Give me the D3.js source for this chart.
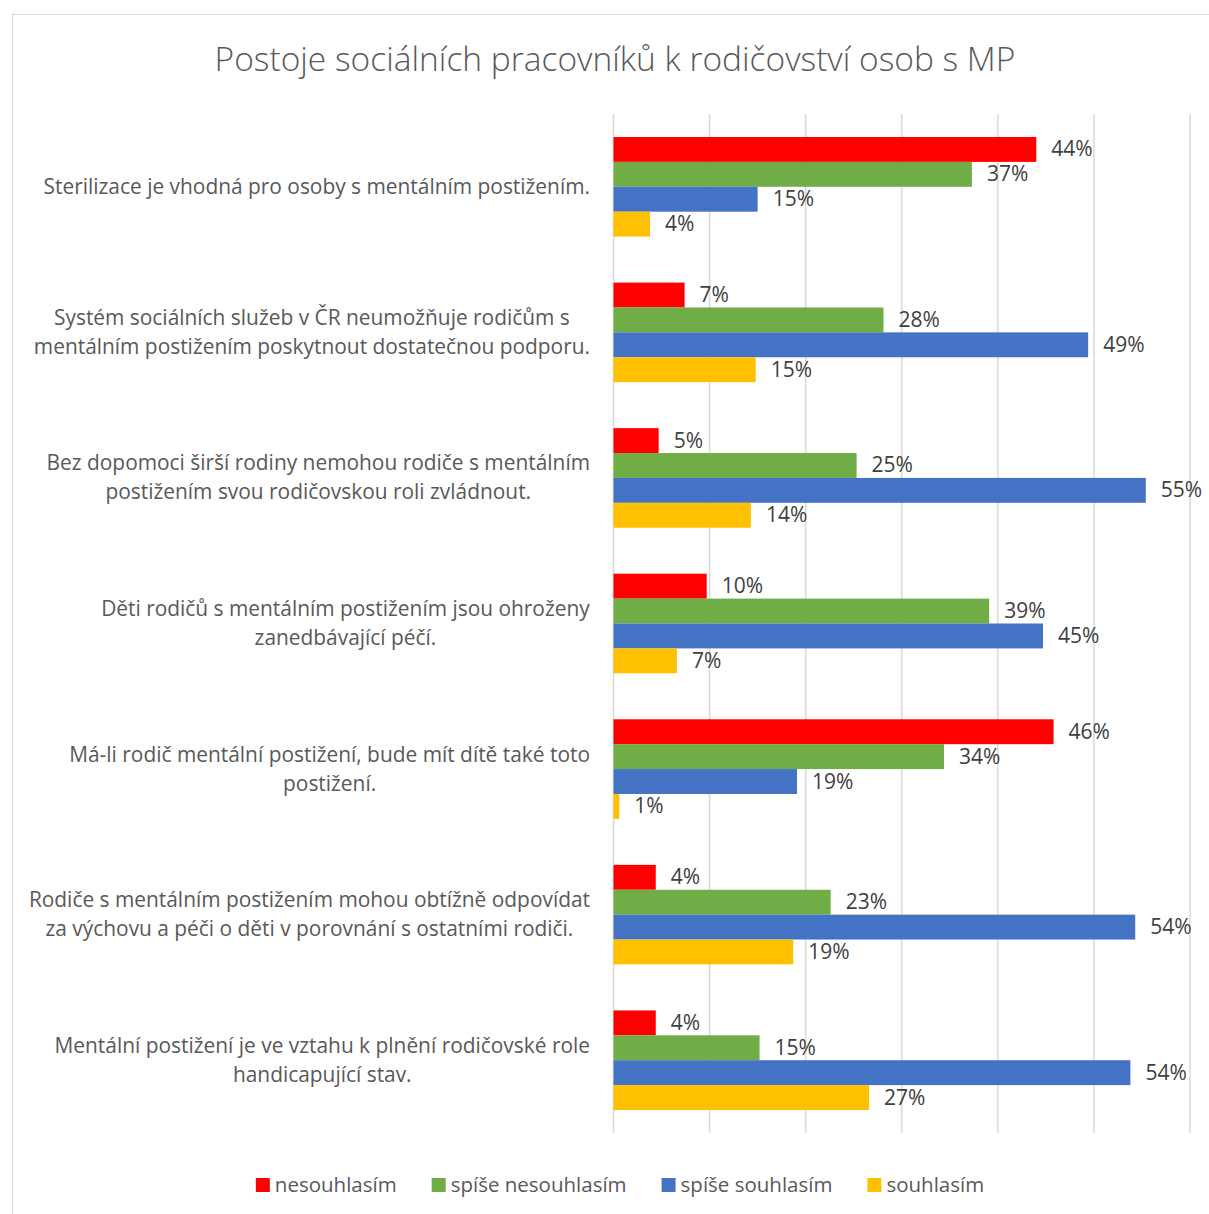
<!DOCTYPE html>
<html>
<head>
<meta charset="utf-8">
<script src="https://cdn.jsdelivr.net/npm/d3@7.9.0/dist/d3.min.js"></script>
<style>
  body { margin: 0; background: #fff; }
  svg text { font-family: "Open Sans", sans-serif; }
</style>
</head>
<body>
<svg id="chart" width="1209" height="1214"></svg>
<script>
const title = 'Postoje sociálních pracovníků k rodičovství osob s MP';

// statements (label lines)
const categories = [
  ['Sterilizace je vhodná pro osoby s mentálním postižením.'],
  ['Systém sociálních služeb v ČR neumožňuje rodičům s', 'mentálním postižením poskytnout dostatečnou podporu.'],
  ['Bez dopomoci širší rodiny nemohou rodiče s mentálním', 'postižením svou rodičovskou roli zvládnout.'],
  ['Děti rodičů s mentálním postižením jsou ohroženy', 'zanedbávající péčí.'],
  ['Má-li rodič mentální postižení, bude mít dítě také toto', 'postižení.'],
  ['Rodiče s mentálním postižením mohou obtížně odpovídat', 'za výchovu a péči o děti v porovnání s ostatními rodiči.'],
  ['Mentální postižení je ve vztahu k plnění rodičovské role', 'handicapující stav.']
];

const seriesNames = ['nesouhlasím', 'spíše nesouhlasím', 'spíše souhlasím', 'souhlasím'];
const seriesColors = ['#ff0000', '#70ad47', '#4472c4', '#ffc000'];

// shares per statement, in %
const nesouhlasim      = [44.0, 7.4, 4.7, 9.7, 45.8, 4.4, 4.4];
const spiseNesouhlasim = [37.3, 28.1, 25.3, 39.1, 34.4, 22.6, 15.2];
const spiseSouhlasim   = [15.0, 49.4, 55.4, 44.7, 19.1, 54.3, 53.8];
const souhlasim        = [3.8, 14.8, 14.3, 6.6, 0.6, 18.7, 26.6];
const seriesValues = [nesouhlasim, spiseNesouhlasim, spiseSouhlasim, souhlasim];

const gridTicks = [0, 10, 20, 30, 40, 50, 60];

const svg = d3.select('#chart');

// chart frame (only top and left edges fall inside the window)
svg.append('rect')
  .attr('x', 12.5).attr('y', 14.5)
  .attr('width', 1230).attr('height', 1230)
  .attr('fill', 'none').attr('stroke', '#d9d9d9').attr('stroke-width', 1);

svg.append('text')
  .attr('x', 615).attr('y', 71)
  .attr('text-anchor', 'middle')
  .attr('font-size', 33.5)
  .attr('font-weight', 300)
  .attr('fill', '#595959')
  .text(title);

const x = d3.scaleLinear().domain([0, 60]).range([613.5, 1190]);
const y = d3.scaleBand().domain(d3.range(categories.length)).range([114, 1133]);
const inner = d3.scaleBand().domain(d3.range(seriesNames.length))
  .range([23, y.bandwidth() - 23]);

// gridlines
svg.append('g').selectAll('line')
  .data(gridTicks)
  .join('line')
  .attr('x1', d => x(d)).attr('x2', d => x(d))
  .attr('y1', 114).attr('y2', 1133)
  .attr('stroke', '#d9d9d9').attr('stroke-width', 1.5);

// category labels
const catG = svg.append('g');
categories.forEach((lines, i) => {
  const cy = y(i) + y.bandwidth() / 2;
  const t = catG.append('text')
    .attr('font-size', 20.9)
    .attr('fill', '#595959')
    .attr('text-anchor', 'middle');
  lines.forEach((ln, j) => {
    t.append('tspan')
      .attr('x', 0)
      .attr('y', cy + (j - (lines.length - 1) / 2) * 29 + 7)
      .text(ln);
  });
  // right-align the centered block at x = 590
  const w = t.node().getBBox().width;
  t.attr('transform', `translate(${590 - w / 2},0)`);
});

// bars + labels
const fmt = v => Math.round(v) + '%';
seriesValues.forEach((vals, s) => {
  const g = svg.append('g');
  g.selectAll('rect')
    .data(vals)
    .join('rect')
    .attr('x', x(0))
    .attr('y', (d, i) => y(i) + inner(s))
    .attr('width', d => x(d) - x(0))
    .attr('height', inner.bandwidth())
    .attr('fill', seriesColors[s]);
  g.selectAll('text')
    .data(vals)
    .join('text')
    .attr('x', d => x(d) + 15)
    .attr('y', (d, i) => y(i) + inner(s) + inner.bandwidth() / 2 + 7)
    .attr('font-size', 21)
    .attr('fill', '#404040')
    .text(d => fmt(d));
});

// legend
const legend = svg.append('g');
let lx = 0;
seriesNames.forEach((name, i) => {
  const it = legend.append('g').attr('transform', `translate(${lx},0)`);
  it.append('rect')
    .attr('x', 0).attr('y', 1178).attr('width', 14).attr('height', 14)
    .attr('fill', seriesColors[i]);
  const t = it.append('text')
    .attr('x', 19).attr('y', 1192)
    .attr('font-size', 20.5)
    .attr('fill', '#595959')
    .text(name);
  lx += 19 + t.node().getComputedTextLength() + 35;
});
const legendW = lx - 35;
legend.attr('transform', `translate(${620 - legendW / 2},0)`);
</script>
</body>
</html>
